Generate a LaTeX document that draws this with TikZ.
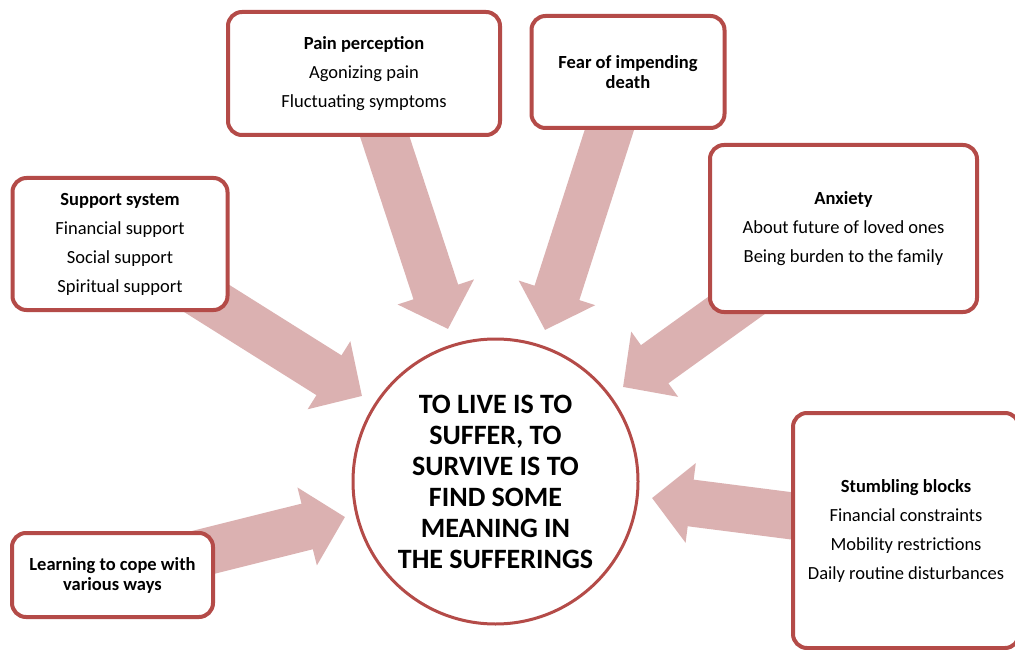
\documentclass[tikz,border=0pt]{standalone}
\usepackage{fontspec}
\setmainfont{Carlito}
\usetikzlibrary{arrows.meta}
\definecolor{boxred}{RGB}{180,75,72}
\definecolor{arrowpink}{RGB}{219,177,177}
\pgfdeclarelayer{bg}
\pgfsetlayers{bg,main}
\begin{document}
\begin{tikzpicture}[x=1pt,y=-1pt,
  box/.style={draw=boxred, line width=4pt, rounded corners=14pt, fill=white, align=center, font=\fontsize{18.5}{20}\selectfont, inner sep=0pt},
  flow/.style={draw=arrowpink, line width=47pt, -{Triangle[length=39pt,width=78pt]}},
  hub/.style={circle, draw=boxred, line width=3pt, fill=white, minimum size=285pt, align=center, font=\fontsize{28}{31}\bfseries\selectfont, inner sep=0pt}]
\useasboundingbox (0,0) rectangle (1015,650);
\clip (0,0) rectangle (1015,650);
\begin{pgfonlayer}{bg}
\fill[white] (0,0) rectangle (1015,650);
\end{pgfonlayer}
\node[box, minimum width=215pt, minimum height=132pt] (sup) at (120,244)
  {\textbf{Support system}\\[9pt]Financial support\\[9pt]Social support\\[9pt]Spiritual support};
\node[box, minimum width=272pt, minimum height=123pt] (pain) at (364,73.5)
  {\textbf{Pain perception}\\[9pt]Agonizing pain\\[9pt]Fluctuating symptoms};
\node[box, minimum width=193pt, minimum height=112pt] (fear) at (628,72)
  {\textbf{Fear of impending}\\\textbf{death}};
\node[box, minimum width=267pt, minimum height=167pt] (anx) at (843.5,228.5)
  {\textbf{Anxiety}\\[9pt]About future of loved ones\\[9pt]Being burden to the family};
\node[box, minimum width=226pt, minimum height=235pt] (stum) at (906,530.5)
  {\textbf{Stumbling blocks}\\[9pt]Financial constraints\\[9pt]Mobility restrictions\\[9pt]Daily routine disturbances};
\node[box, minimum width=201pt, minimum height=84pt] (learn) at (112.5,575)
  {\textbf{Learning to cope with}\\\textbf{various ways}};
\node[hub] (hub) at (495.5,481.5)
  {TO LIVE IS TO\\SUFFER, TO\\SURVIVE IS TO\\FIND SOME\\MEANING IN\\THE SUFFERINGS};
\coordinate (t1) at (362,396);
\coordinate (t2) at (448,329);
\coordinate (t3) at (545,330);
\coordinate (t4) at (623,387);
\coordinate (t5) at (652,498);
\coordinate (t6) at (345,517);
\begin{pgfonlayer}{bg}
\draw[flow] (sup.center) -- (t1);
\draw[flow] (pain.center) -- (t2);
\draw[flow] (fear.center) -- (t3);
\draw[flow] (anx.center) -- (t4);
\draw[flow] (stum.center) -- (t5);
\draw[flow] (learn.center) -- (t6);
\end{pgfonlayer}
\end{tikzpicture}
\end{document}
